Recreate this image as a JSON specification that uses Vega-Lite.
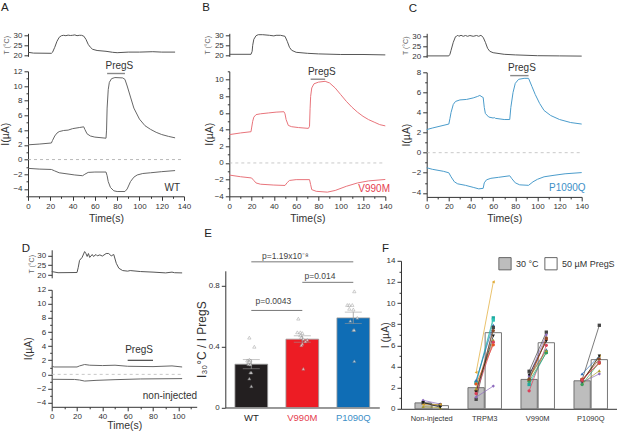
{
  "$schema": "https://vega.github.io/schema/vega-lite/v6.json",
  "padding": {"left": 0, "top": 1.3, "right": 0, "bottom": 0},
  "background": "white",
  "config": {
    "font": "Liberation Sans",
    "view": {"stroke": null},
    "axis": {"grid": false, "domainColor": "#333", "tickColor": "#333", "labelColor": "#333", "titleColor": "#333", "labelFontSize": 8, "labelPadding": 2, "titleFontWeight": "normal", "titleFontSize": 10.5, "tickSize": 4, "labelFlush": false},
    "title": {"fontWeight": "normal", "fontSize": 11.5, "anchor": "start", "frame": "group", "color": "#222"}
  },
  "datasets": {
    "A_T": [{"t":0,"v":21.5},{"t":5,"v":21.1},{"t":21,"v":21},{"t":22,"v":21.5},{"t":24,"v":24},{"t":26,"v":27},{"t":28,"v":29},{"t":30,"v":29.8},{"t":32,"v":30},{"t":34,"v":29.8},{"t":36,"v":30.1},{"t":38,"v":29.9},{"t":40,"v":30},{"t":42,"v":30.2},{"t":44,"v":29.8},{"t":46,"v":30},{"t":48,"v":30},{"t":50,"v":29.6},{"t":52,"v":28},{"t":54,"v":25.5},{"t":56,"v":24},{"t":58,"v":23},{"t":62,"v":22.4},{"t":70,"v":22},{"t":76,"v":21.5},{"t":80,"v":21.3},{"t":90,"v":21.6},{"t":100,"v":21.6},{"t":112,"v":21.8},{"t":120,"v":21.6},{"t":132,"v":21.6}],
    "A_up": [{"t":0,"v":2},{"t":10,"v":2.1},{"t":21,"v":2.25},{"t":22,"v":2.6},{"t":24,"v":3.2},{"t":26,"v":3.6},{"t":28,"v":3.8},{"t":32,"v":3.95},{"t":36,"v":4},{"t":40,"v":4.2},{"t":46,"v":4.35},{"t":50,"v":4.45},{"t":51,"v":4.1},{"t":53,"v":3.5},{"t":56,"v":3.2},{"t":60,"v":3.05},{"t":70,"v":2.9},{"t":70.5,"v":4},{"t":71,"v":7},{"t":72,"v":9.5},{"t":73,"v":10.5},{"t":75,"v":11},{"t":78,"v":11.15},{"t":85,"v":11.1},{"t":87,"v":10.9},{"t":89,"v":10},{"t":92,"v":8.5},{"t":95,"v":7},{"t":100,"v":5.5},{"t":105,"v":4.6},{"t":110,"v":4.1},{"t":115,"v":3.7},{"t":120,"v":3.4},{"t":126,"v":3.15},{"t":132,"v":2.95}],
    "A_down": [{"t":0,"v":-1.2},{"t":10,"v":-1.3},{"t":21,"v":-1.35},{"t":24,"v":-1.55},{"t":28,"v":-1.8},{"t":35,"v":-1.95},{"t":42,"v":-2.1},{"t":49,"v":-2.2},{"t":51,"v":-2},{"t":54,"v":-1.75},{"t":60,"v":-1.7},{"t":70,"v":-1.7},{"t":71,"v":-2.2},{"t":72,"v":-3},{"t":74,"v":-3.8},{"t":77,"v":-4.25},{"t":80,"v":-4.35},{"t":87,"v":-4.35},{"t":89,"v":-4},{"t":92,"v":-3},{"t":95,"v":-2.4},{"t":98,"v":-2.1},{"t":103,"v":-1.9},{"t":110,"v":-1.8},{"t":120,"v":-1.65},{"t":132,"v":-1.5}],
    "B_T": [{"t":0,"v":20.5},{"t":19.5,"v":20.5},{"t":20.5,"v":22},{"t":21,"v":25},{"t":22,"v":28},{"t":24,"v":29.8},{"t":26,"v":30.3},{"t":30,"v":30.3},{"t":36,"v":30},{"t":40,"v":29.7},{"t":42,"v":30},{"t":46,"v":30},{"t":50,"v":29.5},{"t":52,"v":27},{"t":54,"v":24},{"t":56,"v":22.5},{"t":60,"v":21.5},{"t":70,"v":21},{"t":80,"v":20.7},{"t":100,"v":20.4},{"t":120,"v":20.4},{"t":140,"v":20.2}],
    "B_up": [{"t":0,"v":3.4},{"t":10,"v":3.6},{"t":19.5,"v":3.75},{"t":20,"v":4.2},{"t":21,"v":5},{"t":22,"v":5.5},{"t":24,"v":5.8},{"t":28,"v":5.9},{"t":35,"v":6},{"t":42,"v":6.1},{"t":49,"v":6.15},{"t":50,"v":5.9},{"t":51,"v":5.2},{"t":53,"v":4.5},{"t":56,"v":4.35},{"t":62,"v":4.25},{"t":71,"v":4.15},{"t":72,"v":4.4},{"t":72.5,"v":6.5},{"t":73,"v":8},{"t":74,"v":9},{"t":76,"v":9.5},{"t":80,"v":9.7},{"t":86,"v":9.8},{"t":90,"v":9.6},{"t":95,"v":9},{"t":100,"v":8.2},{"t":105,"v":7.4},{"t":110,"v":6.7},{"t":115,"v":6.1},{"t":120,"v":5.6},{"t":125,"v":5.2},{"t":130,"v":4.9},{"t":135,"v":4.6},{"t":140,"v":4.45}],
    "B_down": [{"t":0,"v":-1.45},{"t":10,"v":-1.65},{"t":20,"v":-1.8},{"t":22,"v":-2.1},{"t":24,"v":-2.4},{"t":28,"v":-2.55},{"t":40,"v":-2.65},{"t":50,"v":-2.7},{"t":52,"v":-2.35},{"t":54,"v":-2.1},{"t":60,"v":-2},{"t":72,"v":-2},{"t":73,"v":-2.6},{"t":74,"v":-3.2},{"t":78,"v":-3.4},{"t":88,"v":-3.5},{"t":95,"v":-3.3},{"t":105,"v":-2.8},{"t":115,"v":-2.4},{"t":125,"v":-2.15},{"t":140,"v":-1.98}],
    "C_T": [{"t":0,"v":20.2},{"t":20,"v":20.2},{"t":21,"v":21},{"t":22,"v":23},{"t":24,"v":27},{"t":26,"v":29.8},{"t":27,"v":30},{"t":28,"v":30.6},{"t":29,"v":30},{"t":31,"v":30.5},{"t":33,"v":30},{"t":35,"v":30.4},{"t":37,"v":30},{"t":39,"v":30.4},{"t":42,"v":30},{"t":45,"v":30.4},{"t":47,"v":30},{"t":49,"v":30.5},{"t":51,"v":29.5},{"t":53,"v":27},{"t":55,"v":24},{"t":57,"v":22.5},{"t":60,"v":21.8},{"t":70,"v":21},{"t":80,"v":20.7},{"t":100,"v":20.3},{"t":120,"v":20.2},{"t":140,"v":20.1}],
    "C_up": [{"t":0,"v":2.3},{"t":5,"v":2.45},{"t":20,"v":2.85},{"t":21,"v":3.4},{"t":22,"v":4},{"t":24,"v":4.8},{"t":26,"v":5.1},{"t":30,"v":5.25},{"t":36,"v":5.3},{"t":42,"v":5.45},{"t":46,"v":5.6},{"t":48,"v":5.7},{"t":50,"v":5.55},{"t":51,"v":5.5},{"t":52,"v":4.5},{"t":53,"v":3.9},{"t":56,"v":3.55},{"t":60,"v":3.45},{"t":61,"v":3.5},{"t":62,"v":3.42},{"t":70,"v":3.3},{"t":75,"v":3.3},{"t":76,"v":4.5},{"t":78,"v":6},{"t":80,"v":6.9},{"t":83,"v":7.3},{"t":88,"v":7.4},{"t":92,"v":7.4},{"t":95,"v":6.6},{"t":98,"v":5.8},{"t":102,"v":4.9},{"t":106,"v":4.2},{"t":112,"v":3.7},{"t":120,"v":3.3},{"t":130,"v":3},{"t":140,"v":2.85}],
    "C_down": [{"t":0,"v":-1.5},{"t":5,"v":-1.65},{"t":15,"v":-1.85},{"t":20,"v":-2},{"t":22,"v":-2.4},{"t":25,"v":-2.9},{"t":28,"v":-3.1},{"t":35,"v":-3.25},{"t":42,"v":-3.45},{"t":47,"v":-3.6},{"t":51,"v":-3.55},{"t":52,"v":-3},{"t":54,"v":-2.7},{"t":58,"v":-2.55},{"t":65,"v":-2.45},{"t":75,"v":-2.3},{"t":77,"v":-2.6},{"t":80,"v":-3},{"t":84,"v":-3.2},{"t":92,"v":-3.25},{"t":96,"v":-2.9},{"t":100,"v":-2.65},{"t":106,"v":-2.4},{"t":115,"v":-2.25},{"t":125,"v":-2.1},{"t":140,"v":-1.98}],
    "D_T": [{"t":0,"v":21.8},{"t":5,"v":21.2},{"t":20,"v":21.3},{"t":21,"v":24},{"t":22,"v":27.5},{"t":24,"v":29},{"t":26,"v":32},{"t":27,"v":31},{"t":28,"v":29.5},{"t":29,"v":31},{"t":30,"v":29},{"t":32,"v":30.5},{"t":33,"v":29.5},{"t":35,"v":30.5},{"t":36,"v":29.8},{"t":38,"v":30.3},{"t":40,"v":29.7},{"t":43,"v":31},{"t":45,"v":31},{"t":47,"v":29.8},{"t":49,"v":30.5},{"t":51,"v":26},{"t":53,"v":23.5},{"t":56,"v":22.3},{"t":60,"v":22},{"t":62,"v":22.3},{"t":70,"v":21.8},{"t":80,"v":21.5},{"t":90,"v":21.1},{"t":95,"v":21.5},{"t":97,"v":21.2},{"t":103,"v":21.1}],
    "D_up": [{"t":0,"v":1.15},{"t":2,"v":1.05},{"t":20,"v":1.05},{"t":22,"v":1.2},{"t":26,"v":1.4},{"t":30,"v":1.3},{"t":40,"v":1.25},{"t":50,"v":1.3},{"t":60,"v":1.15},{"t":80,"v":1.1},{"t":95,"v":1.2},{"t":103,"v":1.05}],
    "D_down": [{"t":0,"v":-0.7},{"t":18,"v":-0.72},{"t":22,"v":-0.8},{"t":26,"v":-0.95},{"t":35,"v":-0.85},{"t":50,"v":-0.75},{"t":70,"v":-0.65},{"t":103,"v":-0.6}],
    "E_bars": [{"g":"WT","val":0.285,"lo":0.255,"hi":0.315},{"g":"V990M","val":0.45,"lo":0.43,"hi":0.472},{"g":"P1090Q","val":0.59,"lo":0.553,"hi":0.628}],
    "E_pts": [{"g":"WT","j":-2,"val":0.46},{"g":"WT","j":3,"val":0.4},{"g":"WT","j":-4,"val":0.31},{"g":"WT","j":-2,"val":0.315},{"g":"WT","j":-1,"val":0.31},{"g":"WT","j":-3,"val":0.3},{"g":"WT","j":-2,"val":0.3},{"g":"WT","j":-3,"val":0.285},{"g":"WT","j":-1,"val":0.283},{"g":"WT","j":-1,"val":0.23},{"g":"WT","j":0,"val":0.23},{"g":"WT","j":-2,"val":0.19},{"g":"WT","j":0,"val":0.14},
      {"g":"V990M","j":-4,"val":0.585},{"g":"V990M","j":-5,"val":0.495},{"g":"V990M","j":-2,"val":0.495},{"g":"V990M","j":0,"val":0.49},{"g":"V990M","j":-2,"val":0.475},{"g":"V990M","j":-1,"val":0.46},{"g":"V990M","j":1,"val":0.45},{"g":"V990M","j":5,"val":0.445},{"g":"V990M","j":3,"val":0.435},{"g":"V990M","j":0,"val":0.42},{"g":"V990M","j":-1,"val":0.41},{"g":"V990M","j":1,"val":0.255},
      {"g":"P1090Q","j":1,"val":0.765},{"g":"P1090Q","j":-6,"val":0.675},{"g":"P1090Q","j":-4,"val":0.675},{"g":"P1090Q","j":-1,"val":0.675},{"g":"P1090Q","j":-4,"val":0.65},{"g":"P1090Q","j":0,"val":0.645},{"g":"P1090Q","j":4,"val":0.59},{"g":"P1090Q","j":-3,"val":0.57},{"g":"P1090Q","j":0,"val":0.51},{"g":"P1090Q","j":1,"val":0.51},{"g":"P1090Q","j":1,"val":0.305}],
    "F_bars": [{"group":"Non-injected","cond":"30 °C","val":0.56},{"group":"Non-injected","cond":"50 µM PregS","val":0.3},{"group":"TRPM3","cond":"30 °C","val":2},{"group":"TRPM3","cond":"50 µM PregS","val":7.2},{"group":"V990M","cond":"30 °C","val":2.78},{"group":"V990M","cond":"50 µM PregS","val":6.25},{"group":"P1090Q","cond":"30 °C","val":2.65},{"group":"P1090Q","cond":"50 µM PregS","val":4.65}],
    "F_pairs": [
      {"group":"Non-injected","s":"purple","cond":"30 °C","val":0.8},{"group":"Non-injected","s":"purple","cond":"50 µM PregS","val":0.45},
      {"group":"Non-injected","s":"dark","cond":"30 °C","val":0.55},{"group":"Non-injected","s":"dark","cond":"50 µM PregS","val":0.35},
      {"group":"Non-injected","s":"olive","cond":"30 °C","val":0.2},{"group":"Non-injected","s":"olive","cond":"50 µM PregS","val":0.1},
      {"group":"Non-injected","s":"gold","cond":"30 °C","val":0.4},{"group":"Non-injected","s":"gold","cond":"50 µM PregS","val":0.4},
      {"group":"Non-injected","s":"black","cond":"30 °C","val":0.6},{"group":"Non-injected","s":"black","cond":"50 µM PregS","val":0.15},
      {"group":"TRPM3","s":"gold","cond":"30 °C","val":3.44},{"group":"TRPM3","s":"gold","cond":"50 µM PregS","val":12},
      {"group":"TRPM3","s":"teal","cond":"30 °C","val":2.5},{"group":"TRPM3","s":"teal","cond":"50 µM PregS","val":8.6},
      {"group":"TRPM3","s":"cyan","cond":"30 °C","val":2.4},{"group":"TRPM3","s":"cyan","cond":"50 µM PregS","val":8.4},
      {"group":"TRPM3","s":"blue","cond":"30 °C","val":2.7},{"group":"TRPM3","s":"blue","cond":"50 µM PregS","val":7.9},
      {"group":"TRPM3","s":"dark","cond":"30 °C","val":0.9},{"group":"TRPM3","s":"dark","cond":"50 µM PregS","val":7.7},
      {"group":"TRPM3","s":"brown","cond":"30 °C","val":1.7},{"group":"TRPM3","s":"brown","cond":"50 µM PregS","val":7.4},
      {"group":"TRPM3","s":"olive","cond":"30 °C","val":1.9},{"group":"TRPM3","s":"olive","cond":"50 µM PregS","val":6.5},
      {"group":"TRPM3","s":"orange","cond":"30 °C","val":2.35},{"group":"TRPM3","s":"orange","cond":"50 µM PregS","val":6.05},
      {"group":"TRPM3","s":"black","cond":"30 °C","val":1.6},{"group":"TRPM3","s":"black","cond":"50 µM PregS","val":6.9},
      {"group":"TRPM3","s":"purple","cond":"30 °C","val":1.1},{"group":"TRPM3","s":"purple","cond":"50 µM PregS","val":2.15},
      {"group":"TRPM3","s":"crimson","cond":"30 °C","val":1.45},{"group":"TRPM3","s":"crimson","cond":"50 µM PregS","val":6.3},
      {"group":"V990M","s":"dark","cond":"30 °C","val":3.55},{"group":"V990M","s":"dark","cond":"50 µM PregS","val":7.25},
      {"group":"V990M","s":"blue","cond":"30 °C","val":3},{"group":"V990M","s":"blue","cond":"50 µM PregS","val":5.6},
      {"group":"V990M","s":"orange","cond":"30 °C","val":2.7},{"group":"V990M","s":"orange","cond":"50 µM PregS","val":6.6},
      {"group":"V990M","s":"crimson","cond":"30 °C","val":1.7},{"group":"V990M","s":"crimson","cond":"50 µM PregS","val":6},
      {"group":"V990M","s":"teal","cond":"30 °C","val":2.3},{"group":"V990M","s":"teal","cond":"50 µM PregS","val":5.35},
      {"group":"V990M","s":"purple","cond":"30 °C","val":3.1},{"group":"V990M","s":"purple","cond":"50 µM PregS","val":7},
      {"group":"V990M","s":"green","cond":"30 °C","val":2.6},{"group":"V990M","s":"green","cond":"50 µM PregS","val":5.3},
      {"group":"V990M","s":"olive","cond":"30 °C","val":2.9},{"group":"V990M","s":"olive","cond":"50 µM PregS","val":5.5},
      {"group":"V990M","s":"black","cond":"30 °C","val":3.2},{"group":"V990M","s":"black","cond":"50 µM PregS","val":6.4},
      {"group":"V990M","s":"brown","cond":"30 °C","val":2.8},{"group":"V990M","s":"brown","cond":"50 µM PregS","val":6.7},
      {"group":"P1090Q","s":"dark","cond":"30 °C","val":2.75},{"group":"P1090Q","s":"dark","cond":"50 µM PregS","val":7.9},
      {"group":"P1090Q","s":"blue","cond":"30 °C","val":3.3},{"group":"P1090Q","s":"blue","cond":"50 µM PregS","val":5},
      {"group":"P1090Q","s":"orange","cond":"30 °C","val":2.8},{"group":"P1090Q","s":"orange","cond":"50 µM PregS","val":4.3},
      {"group":"P1090Q","s":"olive","cond":"30 °C","val":2.4},{"group":"P1090Q","s":"olive","cond":"50 µM PregS","val":3.6},
      {"group":"P1090Q","s":"purple","cond":"30 °C","val":2.5},{"group":"P1090Q","s":"purple","cond":"50 µM PregS","val":3.3},
      {"group":"P1090Q","s":"gold","cond":"30 °C","val":2.6},{"group":"P1090Q","s":"gold","cond":"50 µM PregS","val":5},
      {"group":"P1090Q","s":"brown","cond":"30 °C","val":2.7},{"group":"P1090Q","s":"brown","cond":"50 µM PregS","val":4.7},
      {"group":"P1090Q","s":"green","cond":"30 °C","val":2.3},{"group":"P1090Q","s":"green","cond":"50 µM PregS","val":4.4},
      {"group":"P1090Q","s":"black","cond":"30 °C","val":2.55},{"group":"P1090Q","s":"black","cond":"50 µM PregS","val":5},
      {"group":"P1090Q","s":"crimson","cond":"30 °C","val":2.7},{"group":"P1090Q","s":"crimson","cond":"50 µM PregS","val":4.4}
    ]
  },
  "bounds": "flush",
  "spacing": 216.5,
  "vconcat": [
    {
      "bounds": "flush",
      "spacing": 398.7,
      "hconcat": [
        {
          "bounds": "flush",
          "spacing": 201.3,
          "hconcat": [
            {
              "bounds": "flush",
              "spacing": 15,
              "vconcat": [
                {
                  "width": 156, "height": 23,
                  "title": {"text": "A", "dx": -27, "offset": 18},
                  "data": {"name": "A_T"},
                  "mark": {"type": "line", "color": "#555", "strokeWidth": 1},
                  "encoding": {
                    "x": {"field": "t", "type": "quantitative", "scale": {"domain": [0, 140]}, "axis": null},
                    "y": {"field": "v", "type": "quantitative", "scale": {"domain": [19.5, 31]}, "axis": {"values": [20, 25, 30], "title": "T (°C)", "titleFontSize": 7, "titleColor": "#666", "titlePadding": 3.5}}
                  }
                },
                {
                  "width": 156, "height": 125,
                  "encoding": {
                    "x": {"field": "t", "type": "quantitative", "scale": {"domain": [0, 140]}, "axis": {"values": [0,10,20,30,40,50,60,70,80,90,100,110,120,130,140], "labelExpr": "datum.value%20==0?datum.label:''", "tickSize": {"condition": {"test": "datum.value%20==0", "value": 4}, "value": 2}, "title": "Time(s)", "titlePadding": 3}},
                    "y": {"field": "v", "type": "quantitative", "scale": {"domain": [-5, 12]}, "axis": {"values": [-5,-4,-3,-2,-1,0,1,2,3,4,5,6,7,8,9,10,11,12], "labelExpr": "datum.value%2==0?datum.label:''", "tickSize": {"condition": {"test": "datum.value%2==0", "value": 4}, "value": 2}, "title": "I(µA)", "titlePadding": 2}}
                  },
                  "layer": [
                    {"data": {"values": [{"t": 0, "t2": 140, "v": 0}]}, "mark": {"type": "rule", "color": "#aaa", "strokeDash": [3, 3], "strokeWidth": 0.8}, "encoding": {"x2": {"field": "t2"}}},
                    {"data": {"name": "A_up"}, "mark": {"type": "line", "color": "#666", "strokeWidth": 1}},
                    {"data": {"name": "A_down"}, "mark": {"type": "line", "color": "#666", "strokeWidth": 1}},
                    {"data": {"values": [{"t": 71, "t2": 87, "v": 11.7}]}, "mark": {"type": "rule", "color": "#888", "strokeWidth": 1.4}, "encoding": {"x2": {"field": "t2"}}},
                    {"data": {"values": [{"t": 82, "v": 12.7, "label": "PregS"}]}, "mark": {"type": "text", "fontSize": 10, "color": "#333"}, "encoding": {"text": {"field": "label"}}},
                    {"data": {"values": [{"t": 129.5, "v": -3.9, "label": "WT"}]}, "mark": {"type": "text", "fontSize": 10, "color": "#333"}, "encoding": {"text": {"field": "label"}}}
                  ]
                }
              ]
            },
            {
              "bounds": "flush",
              "spacing": 15,
              "vconcat": [
                {
                  "width": 156, "height": 23,
                  "title": {"text": "B", "dx": -27, "offset": 18},
                  "data": {"name": "B_T"},
                  "mark": {"type": "line", "color": "#555", "strokeWidth": 1},
                  "encoding": {
                    "x": {"field": "t", "type": "quantitative", "scale": {"domain": [0, 140]}, "axis": null},
                    "y": {"field": "v", "type": "quantitative", "scale": {"domain": [19.5, 31]}, "axis": {"values": [20, 25, 30], "title": "T (°C)", "titleFontSize": 7, "titleColor": "#666", "titlePadding": 4}}
                  }
                },
                {
                  "width": 156, "height": 125,
                  "encoding": {
                    "x": {"field": "t", "type": "quantitative", "scale": {"domain": [0, 140]}, "axis": {"values": [0,10,20,30,40,50,60,70,80,90,100,110,120,130,140], "labelExpr": "datum.value%20==0?datum.label:''", "tickSize": {"condition": {"test": "datum.value%20==0", "value": 4}, "value": 2}, "title": "Time(s)", "titlePadding": 3}},
                    "y": {"field": "v", "type": "quantitative", "scale": {"domain": [-4, 11]}, "axis": {"values": [-4,-3,-2,-1,0,1,2,3,4,5,6,7,8,9,10,11], "labelExpr": "datum.value%2==0?datum.label:''", "tickSize": {"condition": {"test": "datum.value%2==0", "value": 4}, "value": 2}, "title": "I(µA)", "titlePadding": 0}}
                  },
                  "layer": [
                    {"data": {"values": [{"t": 0, "t2": 140, "v": 0}]}, "mark": {"type": "rule", "color": "#bbb", "strokeDash": [3, 3], "strokeWidth": 0.8}, "encoding": {"x2": {"field": "t2"}}},
                    {"data": {"name": "B_up"}, "mark": {"type": "line", "color": "#E8737A", "strokeWidth": 1}},
                    {"data": {"name": "B_down"}, "mark": {"type": "line", "color": "#E8737A", "strokeWidth": 1}},
                    {"data": {"values": [{"t": 73, "t2": 86, "v": 10.05}]}, "mark": {"type": "rule", "color": "#888", "strokeWidth": 1.4}, "encoding": {"x2": {"field": "t2"}}},
                    {"data": {"values": [{"t": 83, "v": 10.95, "label": "PregS"}]}, "mark": {"type": "text", "fontSize": 10, "color": "#333"}, "encoding": {"text": {"field": "label"}}},
                    {"data": {"values": [{"t": 130, "v": -3.08, "label": "V990M"}]}, "mark": {"type": "text", "fontSize": 10, "color": "#E5404F"}, "encoding": {"text": {"field": "label"}}}
                  ]
                }
              ]
            }
          ]
        },
        {
          "bounds": "flush",
          "spacing": 15,
          "vconcat": [
            {
              "width": 155, "height": 24,
              "title": {"text": "C", "dx": -18, "offset": 18},
              "data": {"name": "C_T"},
              "mark": {"type": "line", "color": "#555", "strokeWidth": 1},
              "encoding": {
                "x": {"field": "t", "type": "quantitative", "scale": {"domain": [0, 140]}, "axis": null},
                "y": {"field": "v", "type": "quantitative", "scale": {"domain": [19.5, 31.5]}, "axis": {"values": [20, 25, 30], "title": "T (°C)", "titleFontSize": 7, "titleColor": "#666", "titlePadding": 3}}
              }
            },
            {
              "width": 155, "height": 124.6,
              "encoding": {
                "x": {"field": "t", "type": "quantitative", "scale": {"domain": [0, 140]}, "axis": {"values": [0,10,20,30,40,50,60,70,80,90,100,110,120,130,140], "labelExpr": "datum.value%20==0?datum.label:''", "tickSize": {"condition": {"test": "datum.value%20==0", "value": 4}, "value": 2}, "title": "Time(s)", "titlePadding": 3}},
                "y": {"field": "v", "type": "quantitative", "scale": {"domain": [-4.4, 8]}, "axis": {"values": [-4,-3,-2,-1,0,1,2,3,4,5,6,7,8], "labelExpr": "datum.value%2==0?datum.label:''", "tickSize": {"condition": {"test": "datum.value%2==0", "value": 4}, "value": 2}, "title": "I(µA)", "titlePadding": 0}}
              },
              "layer": [
                {"data": {"values": [{"t": 0, "t2": 140, "v": 0}]}, "mark": {"type": "rule", "color": "#bbb", "strokeDash": [3, 3], "strokeWidth": 0.8}, "encoding": {"x2": {"field": "t2"}}},
                {"data": {"name": "C_up"}, "mark": {"type": "line", "color": "#4A9CCB", "strokeWidth": 1}},
                {"data": {"name": "C_down"}, "mark": {"type": "line", "color": "#4A9CCB", "strokeWidth": 1}},
                {"data": {"values": [{"t": 75.4, "t2": 92, "v": 7.67}]}, "mark": {"type": "rule", "color": "#888", "strokeWidth": 1.4}, "encoding": {"x2": {"field": "t2"}}},
                {"data": {"values": [{"t": 86, "v": 8.4, "label": "PregS"}]}, "mark": {"type": "text", "fontSize": 10, "color": "#333"}, "encoding": {"text": {"field": "label"}}},
                {"data": {"values": [{"t": 127, "v": -3.5, "label": "P1090Q"}]}, "mark": {"type": "text", "fontSize": 10, "color": "#3D8FC7"}, "encoding": {"text": {"field": "label"}}}
              ]
            }
          ]
        }
      ]
    },
    {
      "bounds": "flush",
      "spacing": 373,
      "resolve": {"scale": {"fill": "independent", "color": "independent", "shape": "independent"}},
      "hconcat": [
        {
          "bounds": "flush",
          "spacing": 197.3,
          "hconcat": [
            {
              "bounds": "flush",
              "spacing": 3.7,
              "hconcat": [
                {"width": 0, "height": 10, "data": {"values": []}, "mark": "point", "encoding": {}},
                {
                  "bounds": "flush",
                  "spacing": 12,
                  "vconcat": [
                    {
                      "width": 145, "height": 28,
                      "title": {"text": "D", "dx": -30, "dy": 5, "offset": 0},
                      "data": {"name": "D_T"},
                      "mark": {"type": "line", "color": "#555", "strokeWidth": 1},
                      "encoding": {
                        "x": {"field": "t", "type": "quantitative", "scale": {"domain": [0, 114.5]}, "axis": null},
                        "y": {"field": "v", "type": "quantitative", "scale": {"domain": [18.6, 32.9]}, "axis": {"values": [20, 25, 30], "title": "T (°C)", "titleFontSize": 7, "titleColor": "#666", "titlePadding": 2}}
                      }
                    },
                    {
                      "width": 145, "height": 117,
                      "encoding": {
                        "x": {"field": "t", "type": "quantitative", "scale": {"domain": [0, 114.5]}, "axis": {"values": [0,10,20,30,40,50,60,70,80,90,100,110], "labelExpr": "datum.value%20==0?datum.label:''", "tickSize": {"condition": {"test": "datum.value%20==0", "value": 4}, "value": 2}, "title": "Time(s)", "titlePadding": 0}},
                        "y": {"field": "v", "type": "quantitative", "scale": {"domain": [-4.6, 12]}, "axis": {"values": [-4,-3,-2,-1,0,1,2,3,4,5,6,7,8,9,10,11,12], "labelExpr": "datum.value%2==0?datum.label:''", "tickSize": {"condition": {"test": "datum.value%2==0", "value": 4}, "value": 2}, "title": "I(µA)", "titlePadding": 3}}
                      },
                      "layer": [
                        {"data": {"values": [{"t": 0, "t2": 103, "v": 0}]}, "mark": {"type": "rule", "color": "#bbb", "strokeDash": [3, 3], "strokeWidth": 0.8}, "encoding": {"x2": {"field": "t2"}}},
                        {"data": {"name": "D_up"}, "mark": {"type": "line", "color": "#666", "strokeWidth": 1}},
                        {"data": {"name": "D_down"}, "mark": {"type": "line", "color": "#666", "strokeWidth": 1}},
                        {"data": {"values": [{"t": 60, "t2": 80, "v": 2}]}, "mark": {"type": "rule", "color": "#222", "strokeWidth": 1}, "encoding": {"x2": {"field": "t2"}}},
                        {"data": {"values": [{"t": 69, "v": 3.4, "label": "PregS"}]}, "mark": {"type": "text", "fontSize": 10, "color": "#333"}, "encoding": {"text": {"field": "label"}}},
                        {"data": {"values": [{"t": 93.4, "v": -3.06, "label": "non-injected"}]}, "mark": {"type": "text", "fontSize": 10, "color": "#333"}, "encoding": {"text": {"field": "label"}}}
                      ]
                    }
                  ]
                }
              ]
            },
            {
              "bounds": "flush",
              "spacing": 0,
              "vconcat": [
                {"width": 154, "height": 21, "data": {"values": []}, "mark": "point", "encoding": {}},
                {
                  "width": 154, "height": 136.7,
                  "title": {"text": "E", "dx": -21, "offset": 12},
                  "encoding": {
                    "x": {"field": "g", "type": "nominal", "sort": ["WT", "V990M", "P1090Q"], "scale": {"domain": ["WT", "V990M", "P1090Q"], "paddingInner": 0.36, "paddingOuter": 0.19}, "axis": {"title": null, "labelAngle": 0, "ticks": false, "labelFontSize": 9.5, "labelPadding": 5, "labelColor": {"condition": [{"test": "datum.value=='V990M'", "value": "#E5404F"}, {"test": "datum.value=='P1090Q'", "value": "#3D8FC7"}], "value": "#222"}}}
                  },
                  "layer": [
                    {"data": {"name": "E_bars"}, "mark": {"type": "bar", "width": 32.7, "stroke": "#999", "strokeWidth": 0.8}, "encoding": {"y": {"field": "val", "type": "quantitative", "scale": {"domain": [0, 0.9]}, "axis": {"values": [0,0.1,0.2,0.3,0.4,0.5,0.6,0.7,0.8,0.9], "labelExpr": "datum.value==0?'0':(round(datum.value*10)%2==0?format(datum.value,'.1f'):'')", "tickSize": {"condition": {"test": "round(datum.value*10)%2==0", "value": 4}, "value": 2}, "title": "I₃₀°C / I PregS", "titleFontSize": 12, "titlePadding": 0}}, "fill": {"field": "g", "type": "nominal", "scale": {"domain": ["WT", "V990M", "P1090Q"], "range": ["#231F20", "#ED1C24", "#0F6DB5"]}, "legend": null}}},
                    {"data": {"name": "E_bars"}, "mark": {"type": "rule", "color": "#999", "strokeWidth": 0.8}, "encoding": {"y": {"field": "lo", "type": "quantitative"}, "y2": {"field": "hi"}}},
                    {"data": {"name": "E_bars"}, "mark": {"type": "tick", "color": "#999", "size": 17, "thickness": 0.8}, "encoding": {"y": {"field": "hi", "type": "quantitative"}}},
                    {"data": {"name": "E_bars"}, "mark": {"type": "tick", "color": "#999", "size": 17, "thickness": 0.8}, "encoding": {"y": {"field": "lo", "type": "quantitative"}}},
                    {"data": {"name": "E_pts"}, "mark": {"type": "point", "shape": "triangle-up", "size": 11, "filled": true, "fill": "white", "stroke": "#777", "strokeWidth": 0.5}, "encoding": {"y": {"field": "val", "type": "quantitative"}, "xOffset": {"field": "j", "type": "quantitative", "scale": {"domain": [-20, 20], "range": [-3.65, 36.35]}}}},
                    {"data": {"values": [{"g": "WT", "g2": "P1090Q", "val": 0.959}, {"g": "V990M", "g2": "P1090Q", "val": 0.824}, {"g": "WT", "g2": "V990M", "val": 0.639}]}, "mark": {"type": "rule", "color": "#777", "strokeWidth": 1}, "encoding": {"x2": {"field": "g2"}, "y": {"field": "val", "type": "quantitative"}}},
                    {"data": {"values": [{"g": "V990M", "j": -17, "val": 0.9985, "label": "p=1.19x10⁻⁸"}, {"g": "V990M", "j": 17.6, "val": 0.866, "label": "p=0.014"}, {"g": "WT", "j": 22, "val": 0.698, "label": "p=0.0043"}]}, "mark": {"type": "text", "fontSize": 8.5, "color": "#444"}, "encoding": {"text": {"field": "label"}, "y": {"field": "val", "type": "quantitative"}, "xOffset": {"field": "j", "type": "quantitative", "scale": {"domain": [-20, 20], "range": [-3.65, 36.35]}}}}
                  ]
                }
              ]
            }
          ]
        },
        {
          "bounds": "flush",
          "spacing": 0,
          "vconcat": [
            {"width": 217, "height": 11, "data": {"values": []}, "mark": "point", "encoding": {}},
            {
              "width": 217, "height": 148,
              "title": {"text": "F", "dx": -19, "offset": 2.3},
              "encoding": {
                "x": {"field": "group", "type": "nominal", "scale": {"domain": ["Non-injected", "TRPM3", "V990M", "P1090Q"], "paddingInner": 0.368, "paddingOuter": 0.231, "align": 0.57}, "axis": {"title": null, "labelAngle": 0, "ticks": false, "labelFontSize": 7.5, "labelPadding": 6, "encode": {"labels": {"update": {"dx": {"signal": "datum.value=='Non-injected'?-7:(datum.value=='P1090Q'?7:0)"}}}}}},
                "xOffset": {"field": "cond", "type": "nominal", "scale": {"domain": ["30 °C", "50 µM PregS"], "paddingInner": 0.05, "paddingOuter": 0}},
                "y": {"field": "val", "type": "quantitative", "scale": {"domain": [0, 14]}, "axis": {"values": [0,1,2,3,4,5,6,7,8,9,10,11,12,13,14], "labelExpr": "datum.value%2==0?datum.label:''", "tickSize": {"condition": {"test": "datum.value%2==0", "value": 4}, "value": 2}, "title": "I (µA)", "titlePadding": -4}}
              },
              "layer": [
                {"data": {"name": "F_bars"}, "mark": {"type": "bar", "stroke": "#666", "strokeWidth": 0.9}, "encoding": {"fill": {"field": "cond", "type": "nominal", "scale": {"domain": ["30 °C", "50 µM PregS"], "range": ["#BDBDBD", "#FFFFFF"]}, "legend": {"title": null, "orient": "none", "legendX": 97, "legendY": 6.5, "direction": "horizontal", "columns": 2, "symbolType": "square", "symbolSize": 150, "symbolStrokeColor": "#666", "symbolStrokeWidth": 1, "labelFontSize": 9, "columnPadding": 3, "labelColor": "#333"}}}},
                {"data": {"name": "F_pairs"}, "mark": {"type": "line", "strokeWidth": 0.7}, "encoding": {"detail": {"field": "group"}, "color": {"field": "s", "type": "nominal", "scale": {"domain": ["gold","teal","cyan","blue","dark","brown","olive","orange","black","purple","crimson","green"], "range": ["#E0A82E","#1FA99F","#2EC4B6","#2F6DB5","#444444","#8A4A2A","#A59A2A","#E8541F","#1A1A1A","#8E6BBE","#D9415A","#3A9E5B"]}, "legend": null}}},
                {"data": {"name": "F_pairs"}, "mark": {"type": "point", "filled": true, "size": 11, "opacity": 1}, "encoding": {"color": {"field": "s", "type": "nominal", "legend": null}, "shape": {"field": "s", "type": "nominal", "scale": {"domain": ["gold","teal","cyan","blue","dark","brown","olive","orange","black","purple","crimson","green"], "range": ["triangle-left","square","square","triangle-up","square","circle","triangle-up","circle","triangle-down","diamond","circle","circle"]}, "legend": null}}}
              ]
            }
          ]
        }
      ]
    }
  ]
}
